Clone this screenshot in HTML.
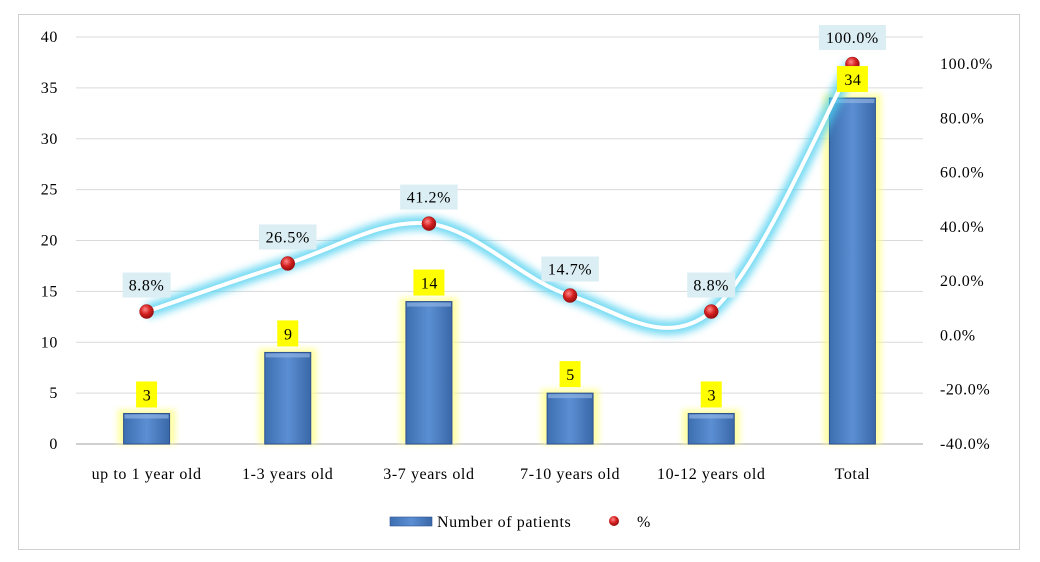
<!DOCTYPE html>
<html><head><meta charset="utf-8">
<style>
html,body{margin:0;padding:0;background:#fff;}
svg{display:block;font-family:"Liberation Serif",serif;}
svg text{letter-spacing:0.6px;}
</style></head>
<body>
<svg id="chart" width="1040" height="562">
<defs>
<linearGradient id="barg" x1="0" x2="1" y1="0" y2="0">
<stop offset="0" stop-color="#3d6fb0"/><stop offset="0.5" stop-color="#5b8fd3"/><stop offset="1" stop-color="#3a68a8"/>
</linearGradient>
<radialGradient id="dotg" cx="0.4" cy="0.35" r="0.7">
<stop offset="0" stop-color="#ff8a8a"/><stop offset="0.5" stop-color="#d52020"/><stop offset="1" stop-color="#8a0c0c"/>
</radialGradient>
<filter id="glow" x="-20%" y="-20%" width="140%" height="140%"><feGaussianBlur stdDeviation="4"/></filter>
<filter id="yglow" x="-50%" y="-20%" width="200%" height="140%"><feGaussianBlur stdDeviation="3"/></filter>
</defs>
<rect x="18.5" y="14.5" width="1001" height="535" fill="#fff" stroke="#d0d0d0" stroke-width="1"/>
<g id="grid"></g>
<g id="bars"></g>
<g id="line"></g>
<g id="labels"></g>
<g>
<rect x="390" y="517" width="42" height="9" fill="url(#barg)" stroke="#2f528f" stroke-width="0.6"/>
<text x="437" y="527" font-size="16" fill="#000">Number of patients</text>
<circle cx="614" cy="521" r="5" fill="url(#dotg)"/>
<text x="637" y="527" font-size="16" fill="#000">%</text>
</g>
</svg>
<script>
const categories=["up to 1 year old","1-3 years old","3-7 years old","7-10 years old","10-12 years old","Total"];
const patients=[3,9,14,5,3,34];
const percents=[8.8,26.5,41.2,14.7,8.8,100.0];
const leftTicks=[0,5,10,15,20,25,30,35,40];
const rightTicks=[-40,-20,0,20,40,60,80,100];

const NS="http://www.w3.org/2000/svg";
const X0=76,X1=923,Y0=444,Y40=37;
const step=(X1-X0)/categories.length;
const xc=i=>X0+step*(i+0.5);
const yL=v=>Y0-(v/40)*(Y0-Y40);
const yR=v=>444-(v+40)/140*(444-64);
function mk(tag,attrs,parent,txt){const e=document.createElementNS(NS,tag);for(const k in attrs)e.setAttribute(k,attrs[k]);if(txt!==undefined)e.textContent=txt;parent.appendChild(e);return e;}
const grid=document.getElementById('grid'),bars=document.getElementById('bars'),line=document.getElementById('line'),labels=document.getElementById('labels');

leftTicks.forEach(t=>{
  const g=mk('line',{x1:X0,x2:X1,y1:yL(t),y2:yL(t),stroke:t===0?'#d0d0d0':'#d9d9d9','stroke-width':t===0?2:1},grid);
  
  
  const l=mk('text',{x:58,y:yL(t)+5,'font-size':16,'text-anchor':'end',fill:'#000'},grid,String(t));
  
  
});
rightTicks.forEach(t=>{
  const l=mk('text',{x:940,y:yR(t)+5,'font-size':16,fill:'#000'},grid,t.toFixed(1)+'%');
  
  
});
categories.forEach((c,i)=>{
  const l=mk('text',{x:xc(i),y:479,'font-size':16,'text-anchor':'middle',fill:'#000'},grid,c);
  
  
});
const bw=46;
patients.forEach((v,i)=>{
  const y=yL(v),h=Y0-y;
  const gl=mk('rect',{x:xc(i)-bw/2-6,y:y-4,width:bw+12,height:h+4,fill:'#ffff80',opacity:0.7,filter:'url(#yglow)'},bars);
  
  
  const b=mk('rect',{x:xc(i)-bw/2,y:y,width:bw,height:h,fill:'url(#barg)',stroke:'#2f528f','stroke-width':1},bars);
  
  
  mk('rect',{x:xc(i)-bw/2+1,y:y+1,width:bw-2,height:4,fill:'#8fb2e3',opacity:0.7},bars);
  const txt=String(v);
  const w=txt.length*10+11;
  const lb=mk('rect',{x:xc(i)-w/2,y:y-32,width:w,height:26,fill:'#ffff00'},labels);
  
  
  const t=mk('text',{x:xc(i)+0.5,y:y-13,'font-size':16,'text-anchor':'middle',fill:'#000'},labels,txt);
  
  
});
const pts=percents.map((p,i)=>[xc(i),yR(p)]);
let d=`M${pts[0][0]},${pts[0][1]}`;
for(let i=0;i<pts.length-1;i++){
  const p0=pts[Math.max(0,i-1)],p1=pts[i],p2=pts[i+1],p3=pts[Math.min(pts.length-1,i+2)];
  const c1=[p1[0]+(p2[0]-p0[0])/6,p1[1]+(p2[1]-p0[1])/6];
  const c2=[p2[0]-(p3[0]-p1[0])/6,p2[1]-(p3[1]-p1[1])/6];
  d+=` C${c1[0]},${c1[1]} ${c2[0]},${c2[1]} ${p2[0]},${p2[1]}`;
}
const g1=mk('path',{d:d,fill:'none',stroke:'#4fd0f0','stroke-width':14,opacity:0.8,filter:'url(#glow)'},line);


const ln=mk('path',{d:d,fill:'none',stroke:'#ffffff','stroke-width':4},line);


pts.forEach((p,i)=>{
  const c=mk('circle',{cx:p[0],cy:p[1],r:7,fill:'url(#dotg)',stroke:'#a01010','stroke-width':0.5},line);
  
  
  const txt=percents[i].toFixed(1)+'%';
  const w=txt.length*9.5+10;
  const bx=mk('rect',{x:p[0]-w/2,y:p[1]-39,width:w,height:25,fill:'#daeef3'},labels);
  
  
  const t=mk('text',{x:p[0],y:p[1]-21,'font-size':16,'text-anchor':'middle',fill:'#000'},labels,txt);
  
  
});
</script>
</body></html>
